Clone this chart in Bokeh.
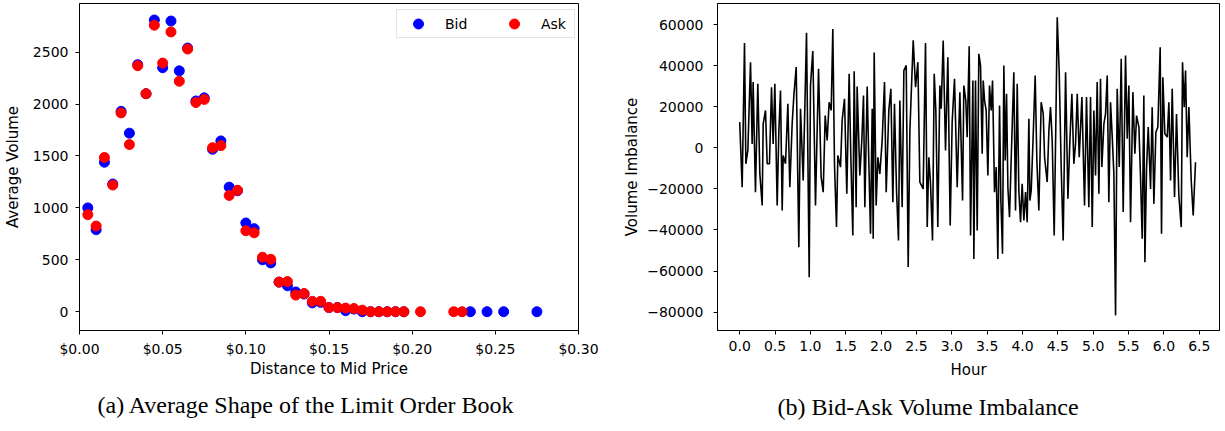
from bokeh.plotting import figure
from bokeh.layouts import row
from bokeh.models import (FixedTicker, NumeralTickFormatter, PrintfTickFormatter,
                          Legend, LegendItem, Range1d)
from bokeh.embed import file_html
from bokeh.resources import INLINE

# ---------------- data: (a) average shape of the limit order book ----------------
dist_bid = [0.005, 0.010, 0.015, 0.020, 0.025, 0.030, 0.035, 0.040, 0.045, 0.050,
            0.055, 0.060, 0.065, 0.070, 0.075, 0.080, 0.085, 0.090, 0.095, 0.100,
            0.105, 0.110, 0.115, 0.120, 0.125, 0.130, 0.135, 0.140, 0.145, 0.150,
            0.155, 0.160, 0.165, 0.170, 0.175, 0.180, 0.185, 0.190, 0.195,
            0.235, 0.245, 0.255, 0.275]
bid_volume = [1000, 790, 1440, 1230, 1930, 1720, 2380, 2100, 2810, 2350,
              2800, 2320, 2540, 2030, 2060, 1565, 1645, 1200, 1165, 855,
              800, 500, 470, 285, 250, 190, 170, 85, 90, 40,
              40, 10, 25, 0, 0, 0, 0, 0, 0,
              0, 0, 0, 0]
dist_ask = [0.005, 0.010, 0.015, 0.020, 0.025, 0.030, 0.035, 0.040, 0.045, 0.050,
            0.055, 0.060, 0.065, 0.070, 0.075, 0.080, 0.085, 0.090, 0.095, 0.100,
            0.105, 0.110, 0.115, 0.120, 0.125, 0.130, 0.135, 0.140, 0.145, 0.150,
            0.155, 0.160, 0.165, 0.170, 0.175, 0.180, 0.185, 0.190, 0.195,
            0.205, 0.225, 0.230]
ask_volume = [935, 825, 1485, 1220, 1915, 1610, 2370, 2100, 2760, 2395,
              2695, 2220, 2530, 2015, 2045, 1580, 1600, 1120, 1170, 780,
              760, 525, 505, 285, 290, 160, 175, 100, 100, 40,
              40, 35, 30, 15, 0, 0, 0, 0, 0,
              0, 0, 0]
dist_ticks = [0.0, 0.05, 0.10, 0.15, 0.20, 0.25, 0.30]
volume_ticks = [0, 500, 1000, 1500, 2000, 2500]

# ---------------- data: (b) bid-ask volume imbalance ----------------
hours = [
    0.00, 0.035, 0.068, 0.087, 0.115, 0.153, 0.176, 0.190, 0.223, 0.256,
    0.285, 0.318, 0.332, 0.365, 0.389, 0.421, 0.450, 0.473, 0.497, 0.530,
    0.554, 0.577, 0.601, 0.615, 0.648, 0.681, 0.709, 0.742, 0.766, 0.799,
    0.836, 0.860, 0.898, 0.945, 0.983, 1.001, 1.034, 1.072, 1.115, 1.152,
    1.181, 1.209, 1.237, 1.265, 1.294, 1.317, 1.341, 1.369, 1.388, 1.426,
    1.449, 1.482, 1.515, 1.548, 1.572, 1.600, 1.619, 1.647, 1.661, 1.699,
    1.727, 1.751, 1.770, 1.803, 1.827, 1.850, 1.874, 1.888, 1.902, 1.930,
    1.954, 1.982, 2.015, 2.048, 2.072, 2.109, 2.138, 2.166, 2.189, 2.218,
    2.246, 2.265, 2.298, 2.322, 2.355, 2.383, 2.407, 2.454, 2.487, 2.520,
    2.548, 2.595, 2.628, 2.652, 2.675, 2.699, 2.727, 2.751, 2.774, 2.802,
    2.831, 2.850, 2.878, 2.911, 2.944, 2.977, 3.005, 3.038, 3.076, 3.114,
    3.152, 3.170, 3.198, 3.217, 3.246, 3.265, 3.298, 3.312,
    3.335, 3.359, 3.382, 3.406, 3.430, 3.444, 3.463, 3.486, 3.510, 3.533,
    3.557, 3.576, 3.604, 3.628, 3.651, 3.675, 3.694, 3.717, 3.736, 3.755,
    3.774, 3.793, 3.816, 3.840, 3.877, 3.901, 3.925, 3.948, 3.972, 3.995,
    4.019, 4.043, 4.066, 4.090, 4.104, 4.123, 4.151, 4.179, 4.203, 4.231,
    4.264, 4.293, 4.312, 4.349, 4.373, 4.396, 4.420, 4.448, 4.472, 4.491,
    4.519, 4.547, 4.575, 4.609, 4.642, 4.670, 4.698, 4.726, 4.750, 4.774,
    4.802, 4.840, 4.877, 4.905, 4.938, 4.962, 4.986, 5.009, 5.033, 5.056,
    5.080, 5.103, 5.122, 5.151, 5.174, 5.198, 5.221, 5.245, 5.269, 5.292,
    5.316, 5.339, 5.368, 5.396, 5.424, 5.457, 5.481, 5.504, 5.528, 5.561,
    5.589, 5.613, 5.646, 5.669, 5.693, 5.716, 5.731, 5.754, 5.778, 5.811,
    5.834, 5.858, 5.886, 5.914, 5.947, 5.966, 5.985, 6.013, 6.047, 6.070,
    6.094, 6.117, 6.150, 6.178, 6.211, 6.245, 6.263, 6.287, 6.306, 6.329,
    6.353, 6.386, 6.414, 6.447]
imbalance = [
    12500, -19200, 51000, -7800, -1300, 41700, 1900, 32000, -21600, 31200,
    -12700, -28100, 11700, 18200, -7800, -7800, 29500, 1900, 31200, -28100,
    8400, 27900, -30500, -3700, -7800, 21400, -19200, 11700, 25500, 39300,
    -48400, 19000, -15900, 56000, -63000, 30300, 47100, -28100, 38500, -14300,
    -21600, 15700, 3600, 22200, 18200, 57800, -8600, -38600, -3700, -9400,
    13300, 23900, -22400, 36000, -4600, -42700, 37300, -28900, 29900, -13500,
    3600, 25500, -28900, 29900, -7800, -41900, 19000, -44300, 46400, -28100,
    -4600, -12700, 3600, 32000, -21600, 18200, 28700, -26500, 21400, -20800,
    -45100, 23000, -28900, 37600, 40100, -58100, 8400, 52300, 29500, 41700,
    -16700, -20000, 51000, -38600, -4600, -17500, -45100, 36000, 18200, -38600,
    30300, 19000, 52300, -1300, 44100, -37800, 12500, 33600, -19200, 27100,
    -25700, 30300, 23000, 5200, 49500, -42700, 32800, -54100,
    32800, -40300, 45800, 40100, -2900, 32800, 23000, 18200, -13500, 30300,
    18200, 32800, -21600, -9400, -54100, 20600, -25700, -51600, 40100, -6200,
    26300, -19200, -33800, -5400, 36800, -30500, 31200, -20800, -36200, -17500,
    -35400, -21600, -36200, 14100, -25700, -20800, 6000, 35200, -6200, -30500,
    22200, 16500, -4600, -16700, 8400, 19800, 3600, -42700, 13300, 63600,
    36800, -9400, -45100, 36800, -24800, 3600, 26300, -7800, 1900, 26300,
    -4600, 24700, -28100, 24700, -28900, 24700, -38600, 18200, -13500, 32000,
    -22400, 33600, -9400, 11700, 16500, 35200, -26500, 22200, 5200, -12700,
    -81600, 28700, -9400, 43300, -31300, 45000, 4400, 30300, -36200, 27100,
    -2900, 15700, 10100, -14300, -44300, 25500, -55700, -10200, 10100, -20000,
    19800, -27300, 7600, 10100, 49000, -41900, 34400, 6800, 5200, 22200,
    -15900, 28700, -24000, 16500, -23200, -38600, 41700, 19800, 37600, -4600,
    19800, -15900, -33000, -7000]
hour_ticks = [0.0, 0.5, 1.0, 1.5, 2.0, 2.5, 3.0, 3.5, 4.0, 4.5, 5.0, 5.5, 6.0, 6.5]
imb_ticks = [-80000, -60000, -40000, -20000, 0, 20000, 40000, 60000]
imb_tick_labels = ["\u221280000", "\u221260000", "\u221240000", "\u221220000",
                   "0", "20000", "40000", "60000"]
captions = ["(a) Average Shape of the Limit Order Book", "(b) Bid-Ask Volume Imbalance"]

TICK_FONT = "DejaVu Sans"
CAPTION_FONT = "Liberation Serif"
H = 431


def style(p, label_standoff):
    p.outline_line_color = "black"
    p.outline_line_width = 1
    p.xgrid.visible = False
    p.ygrid.visible = False
    p.background_fill_color = "white"
    p.border_fill_color = "white"
    for ax in (p.xaxis[0], p.yaxis[0]):
        ax.axis_line_color = "black"
        ax.major_tick_line_color = "black"
        ax.major_tick_out = 4
        ax.major_tick_in = 0
        ax.minor_tick_line_color = None
        ax.major_label_text_font = TICK_FONT
        ax.major_label_text_font_size = "14px"
        ax.major_label_text_color = "black"
        ax.axis_label_text_font = TICK_FONT
        ax.axis_label_text_font_size = "15px"
        ax.axis_label_text_font_style = "normal"
        ax.axis_label_text_color = "black"
    p.xaxis[0].major_label_standoff = 6
    p.yaxis[0].major_label_standoff = label_standoff
    p.title.text_font = CAPTION_FONT
    p.title.text_font_size = "24px"
    p.title.text_font_style = "normal"
    p.title.text_color = "black"
    p.title.align = "left"


# ---------------- left figure ----------------
p1 = figure(width=600, height=H, output_backend="svg", toolbar_location=None,
            x_range=Range1d(0, 0.30), y_range=Range1d(-181, 2969),
            title=captions[0], title_location="below",
            min_border_left=77, min_border_right=22, min_border_top=3,
            min_border_bottom=101)
rb = p1.scatter(dist_bid, bid_volume, size=10, fill_color="blue", line_color="blue")
ra = p1.scatter(dist_ask, ask_volume, size=10, fill_color="red", line_color="red")
style(p1, 7)
p1.xaxis[0].ticker = FixedTicker(ticks=dist_ticks)
p1.xaxis[0].formatter = NumeralTickFormatter(format="$0.00")
p1.yaxis[0].ticker = FixedTicker(ticks=volume_ticks)
p1.xaxis[0].axis_label = "Distance to Mid Price"
p1.xaxis[0].axis_label_standoff = 0
p1.yaxis[0].axis_label = "Average Volume"
p1.yaxis[0].axis_label_standoff = 8
p1.title.offset = 18
p1.title.standoff = 18

legend = Legend(items=[LegendItem(label="Bid", renderers=[rb]),
                       LegendItem(label="Ask", renderers=[ra])],
                orientation="horizontal", location=(317, 292), margin=0,
                padding=1, spacing=17, glyph_width=40, glyph_height=25,
                label_standoff=7, label_width=32, label_height=20,
                label_text_font=TICK_FONT, label_text_font_size="14px",
                label_text_color="black",
                border_line_color="#cccccc", border_line_width=1,
                background_fill_color="white", background_fill_alpha=0.8)
p1.add_layout(legend)

# ---------------- right figure ----------------
p2 = figure(width=625, height=H, output_backend="svg", toolbar_location=None,
            x_range=Range1d(-0.314, 6.786), y_range=Range1d(-88970, 70270),
            title=captions[1], title_location="below",
            min_border_left=117, min_border_right=6, min_border_top=3,
            min_border_bottom=101)
p2.line(hours, imbalance, line_color="black", line_width=1.6)
style(p2, 10)
p2.xaxis[0].ticker = FixedTicker(ticks=hour_ticks)
p2.xaxis[0].formatter = PrintfTickFormatter(format="%.1f")
p2.yaxis[0].ticker = FixedTicker(ticks=imb_ticks)
p2.yaxis[0].major_label_overrides = dict(zip(imb_ticks, imb_tick_labels))
p2.xaxis[0].axis_label = "Hour"
p2.xaxis[0].axis_label_standoff = 7
p2.yaxis[0].axis_label = "Volume Imbalance"
p2.yaxis[0].axis_label_standoff = 3
p2.title.offset = 60
p2.title.standoff = 21

layout = row(p1, p2)
open("out.html", "w").write(file_html(layout, INLINE))
